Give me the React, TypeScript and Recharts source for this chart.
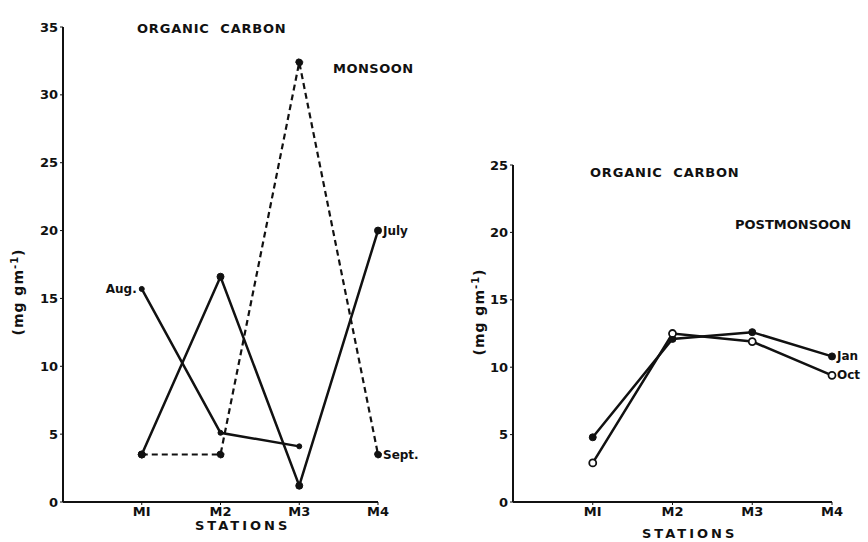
import React from 'react';
import { LineChart, Line, XAxis, YAxis } from 'recharts';

// stations and readings (mg gm-1)
const stations = ['MI', 'M2', 'M3', 'M4'];
const july = [3.5, 16.6, 1.2, 20];
const aug = [15.7, 5.1, 4.1, null];
const sept = [3.5, 3.5, 32.4, 3.5];
const jan = [4.8, 12.1, 12.6, 10.8];
const oct = [2.9, 12.5, 11.9, 9.4];
const monsoonTicks = [0, 5, 10, 15, 20, 25, 30, 35];
const postTicks = [0, 5, 10, 15, 20, 25];

const FONT = '"DejaVu Sans", Arial, sans-serif';

const monsoonData = stations.map((s, i) => ({ pos: i + 1, July: july[i], Aug: aug[i], Sept: sept[i] }));
const postData = stations.map((s, i) => ({ pos: i + 1, Jan: jan[i], Oct: oct[i] }));

const tickStyle = { fontSize: 13, fontWeight: 700, fill: '#111', fontFamily: FONT };

// text label next to one point of a series
const pointLabel = (text: string, at: number, side: 'left' | 'right') => (props: any) => {
    if (props.index !== at || props.x == null) return null;
    return (
        <text
            key={text}
            x={side === 'left' ? props.x - 5 : props.x + 5}
            y={props.y + 4}
            textAnchor={side === 'left' ? 'end' : 'start'}
            fontSize={12}
            fontWeight={700}
            fontFamily={FONT}
            fill="#111"
        >
            {text}
        </text>
    );
};

const dotFilled = { r: 3.5, fill: '#111', stroke: '#111', strokeWidth: 1 };
const dotOpen = { r: 3.5, fill: '#fff', stroke: '#111', strokeWidth: 1.8 };

const txt = (content: React.ReactNode, left: number, top: number, extra: React.CSSProperties = {}) => (
    <div
        style={{
            position: 'absolute', left, top, fontFamily: FONT, fontWeight: 700, fontSize: 13,
            color: '#111', whiteSpace: 'nowrap', lineHeight: 1, ...extra,
        }}
    >
        {content}
    </div>
);

const unitLabel = (
    <span>(mg gm<sup style={{ fontSize: 10 }}>-1</sup>)</span>
);

export default function App() {
    return (
        <div style={{ position: 'absolute', left: 0, top: 0, width: 868, height: 542, background: '#fff', overflow: 'hidden' }}>
            <div style={{ position: 'absolute', left: 0, top: 0 }}>
                <LineChart width={440} height={542} data={monsoonData} margin={{ top: 27, right: 62, left: 33, bottom: 0 }}>
                    <XAxis
                        dataKey="pos"
                        type="number"
                        domain={[0, 4]}
                        ticks={[1, 2, 3, 4]}
                        tickFormatter={(v) => stations[v - 1]}
                        axisLine={{ stroke: '#111', strokeWidth: 2 }}
                        tickLine={{ stroke: '#111' }}
                        tickSize={3}
                        tick={tickStyle}
                        height={40}
                    />
                    <YAxis
                        type="number"
                        domain={[0, 35]}
                        ticks={monsoonTicks}
                        axisLine={{ stroke: '#111', strokeWidth: 2 }}
                        tickLine={{ stroke: '#111' }}
                        tickSize={3}
                        tick={tickStyle}
                        width={30}
                    />
                    <Line dataKey="Sept" stroke="#111" strokeWidth={2.2} strokeDasharray="6 4" dot={dotFilled}
                        isAnimationActive={false} label={pointLabel('Sept.', 3, 'right')} />
                    <Line dataKey="July" stroke="#111" strokeWidth={2.5} dot={dotFilled}
                        isAnimationActive={false} label={pointLabel('July', 3, 'right')} />
                    <Line dataKey="Aug" stroke="#111" strokeWidth={2.5} dot={{ ...dotFilled, r: 2.5 }}
                        isAnimationActive={false} label={pointLabel('Aug.', 0, 'left')} />
                </LineChart>
            </div>
            <div style={{ position: 'absolute', left: 440, top: 0 }}>
                <LineChart width={428} height={542} data={postData} margin={{ top: 165, right: 36, left: 43, bottom: 0 }}>
                    <XAxis
                        dataKey="pos"
                        type="number"
                        domain={[0, 4]}
                        ticks={[1, 2, 3, 4]}
                        tickFormatter={(v) => stations[v - 1]}
                        axisLine={{ stroke: '#111', strokeWidth: 2 }}
                        tickLine={{ stroke: '#111' }}
                        tickSize={3}
                        tick={tickStyle}
                        height={40}
                    />
                    <YAxis
                        type="number"
                        domain={[0, 25]}
                        ticks={postTicks}
                        axisLine={{ stroke: '#111', strokeWidth: 2 }}
                        tickLine={{ stroke: '#111' }}
                        tickSize={3}
                        tick={tickStyle}
                        width={30}
                    />
                    <Line dataKey="Jan" stroke="#111" strokeWidth={2.5} dot={dotFilled}
                        isAnimationActive={false} label={pointLabel('Jan', 3, 'right')} />
                    <Line dataKey="Oct" stroke="#111" strokeWidth={2.5} dot={dotOpen}
                        isAnimationActive={false} label={pointLabel('Oct', 3, 'right')} />
                </LineChart>
            </div>

            {txt('ORGANIC  CARBON', 137, 22, { letterSpacing: 0.8, whiteSpace: 'pre' })}
            {txt('MONSOON', 333, 62, { letterSpacing: 0.5 })}
            {txt('STATIONS', 195, 519, { letterSpacing: 3 })}
            {txt(unitLabel, 17, 292, { transform: 'translate(-50%, -50%) rotate(-90deg)', fontSize: 14, letterSpacing: 1 })}

            {txt('ORGANIC  CARBON', 590, 166, { letterSpacing: 0.8, whiteSpace: 'pre' })}
            {txt('POSTMONSOON', 735, 218, { letterSpacing: 0 })}
            {txt('STATIONS', 642, 527, { letterSpacing: 3 })}
            {txt(unitLabel, 478, 312, { transform: 'translate(-50%, -50%) rotate(-90deg)', fontSize: 14, letterSpacing: 1 })}
        </div>
    );
}
